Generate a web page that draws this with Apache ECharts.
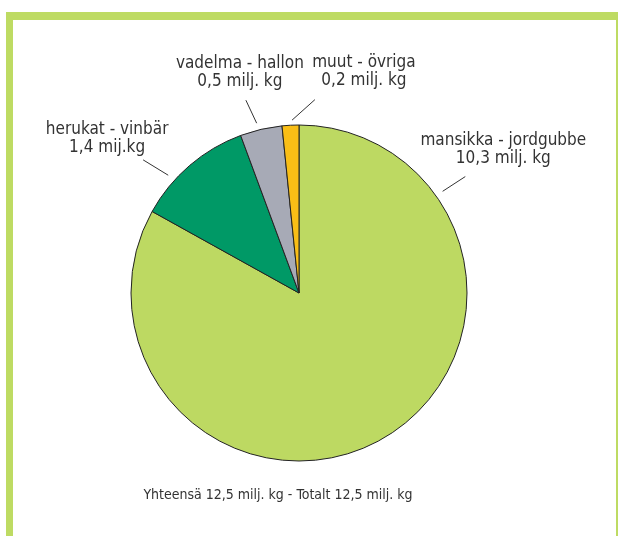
<!DOCTYPE html>
<html>
<head>
<meta charset="utf-8">
<script src="https://cdn.jsdelivr.net/npm/echarts@6/dist/echarts.min.js"></script>
<style>
  html, body { margin: 0; padding: 0; background: #fff; overflow: hidden; }
  #frame {
    position: absolute; left: 6px; top: 12px; width: 617px; height: 600px;
    box-sizing: border-box; border: 7px solid #bedb63; border-top-width: 8px;
  }
  #chart { position: absolute; left: 0; top: 0; width: 618px; height: 536px; }
</style>
</head>
<body>
<div id="frame"></div>
<div id="chart"></div>
<script>
const categories = ['mansikka - jordgubbe', 'herukat - vinbär', 'vadelma - hallon', 'muut - övriga'];
const values = [10.3, 1.4, 0.5, 0.2];
const valueLabels = ['10,3 milj. kg', '1,4 mij.kg', '0,5 milj. kg', '0,2 milj. kg'];
const totalText = 'Yhteensä 12,5 milj. kg - Totalt 12,5 milj. kg';

const colors = ['#bdd962', '#009966', '#a7aab6', '#f9be16'];
const fontFamily = '"Liberation Sans Narrow", "DejaVu Sans Condensed", sans-serif';

// label placement: line angle (deg clockwise from top), inner/outer radius,
// and text offset from the outer end of the line
const labelSpots = [
  { a1: 54.7, r1: 176, a2: 55, r2: 203, tx: 38, ty: -9 },
  { a1: 312, r1: 176, a2: 310.5, r2: 205, tx: -36, ty: -3 },
  { a1: 346, r1: 175, a2: 344.6, r2: 200, tx: -6, ty: -10 },
  { a1: 357.7, r1: 173, a2: 4.7, r2: 194, tx: 49, ty: -10 }
];

const cx = 299, cy = 293, radius = 168;

const polar = (deg, r) => {
  const t = deg * Math.PI / 180;
  return [cx + r * Math.sin(t), cy - r * Math.cos(t)];
};

const dom = document.getElementById('chart');
const myChart = echarts.init(dom, null, { renderer: 'canvas' });

const option = {
  animation: false,
  color: colors,
  title: {
    text: totalText,
    left: 273,
    top: 483,
    textAlign: 'center',
    textStyle: { fontFamily: fontFamily, fontSize: 14, fontWeight: 'normal', color: '#333' }
  },
  series: [
    {
      type: 'pie',
      center: [cx, cy],
      radius: radius,
      startAngle: 90,
      clockwise: true,
      avoidLabelOverlap: false,
      itemStyle: { borderColor: '#222', borderWidth: 1 },
      label: {
        show: true,
        position: 'outside',
        formatter(params) {
          return params.name + '\n' + valueLabels[params.dataIndex];
        },
        fontFamily: fontFamily,
        fontSize: 17,
        lineHeight: 18,
        color: '#333'
      },
      labelLine: {
        show: true,
        length: 20,
        length2: 0,
        lineStyle: { color: '#333', width: 1 }
      },
      labelLayout(params) {
        const s = labelSpots[params.dataIndex];
        const p1 = polar(s.a1, s.r1);
        const p2 = polar(s.a2, s.r2);
        return {
          x: p2[0] + s.tx,
          y: p2[1] + s.ty,
          align: 'center',
          verticalAlign: 'bottom',
          labelLinePoints: [p1, p2, p2]
        };
      },
      emphasis: { disabled: true },
      data: categories.map((name, i) => ({ name: name, value: values[i] }))
    }
  ]
};

myChart.setOption(option);
</script>
</body>
</html>
